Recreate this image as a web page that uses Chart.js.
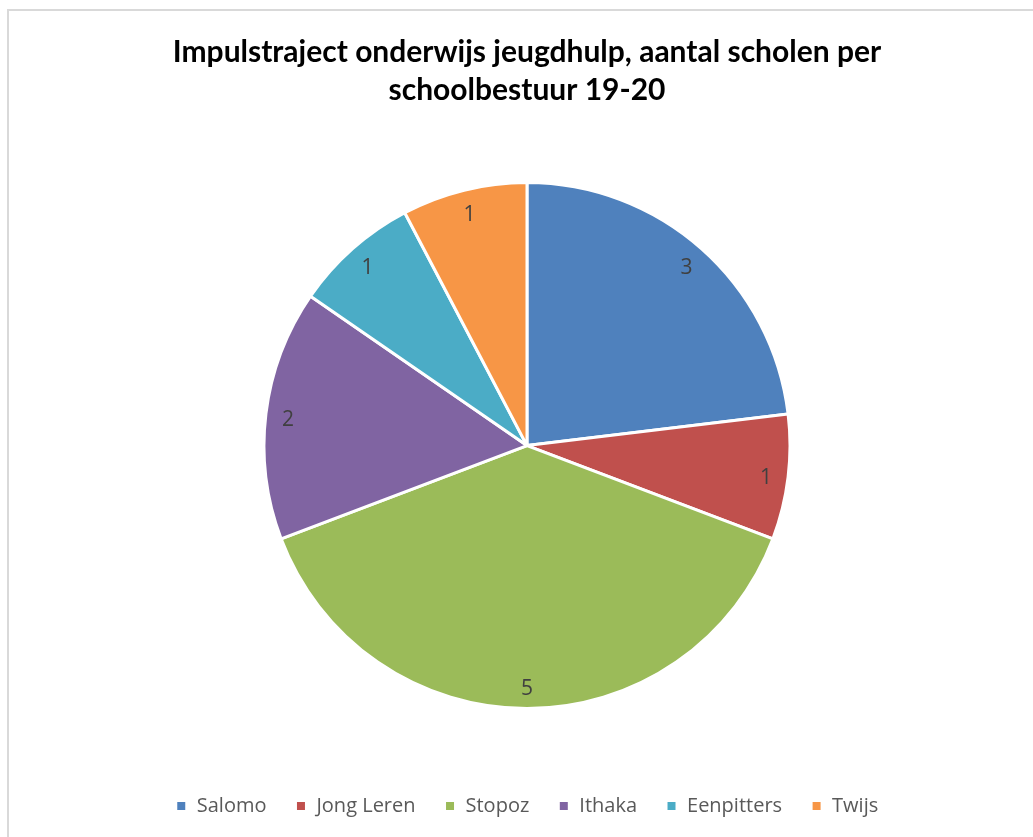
<!DOCTYPE html>
<html><head><meta charset="utf-8">
<script src="https://cdn.jsdelivr.net/npm/chart.js@4/dist/chart.umd.min.js"></script>
<style>
html,body{margin:0;padding:0;background:#fff;overflow:hidden;}
#frame{position:absolute;left:7px;top:9px;width:1040px;height:840px;border:2px solid #d9d9d9;box-sizing:border-box;}
#wrap{position:absolute;left:0;top:0;width:1033px;height:837px;}
</style></head>
<body>
<div id="frame"></div>
<div id="wrap"><canvas id="c" width="1033" height="837"></canvas></div>
<script>
const categories = ["Salomo","Jong Leren","Stopoz","Ithaka","Eenpitters","Twijs"];
const values = [3,1,5,2,1,1];
const colors = ["#4F81BD","#C0504D","#9BBB59","#8064A2","#4BACC6","#F79646"];
const titleLines = ["Impulstraject onderwijs jeugdhulp, aantal scholen per","schoolbestuur 19-20"];

const labelPlugin = {
  id:'sliceLabels',
  afterDatasetsDraw(chart){
    const ctx = chart.ctx;
    const meta = chart.getDatasetMeta(0);
    ctx.save();
    ctx.font = '21px "Open Sans", Lato, sans-serif';
    ctx.fillStyle = '#404040';
    ctx.textAlign='center'; ctx.textBaseline='middle';
    meta.data.forEach((arc,i)=>{
      const p = arc.getProps(['x','y','startAngle','endAngle','outerRadius'],true);
      const a = (p.startAngle+p.endAngle)/2;
      const r = p.outerRadius*0.915;
      ctx.fillText(String(values[i]), p.x+Math.cos(a)*r, p.y+Math.sin(a)*r+3);
    });
    ctx.restore();
  }
};

new Chart(document.getElementById('c'),{
  type:'pie',
  data:{labels:categories,datasets:[{data:values,backgroundColor:colors,borderColor:'#ffffff',borderWidth:3,radius:263}]},
  options:{
    responsive:false,animation:false,
    layout:{padding:{left:21,right:0,top:0,bottom:11}},
    plugins:{
      tooltip:{enabled:false},
      title:{display:true,text:titleLines,color:'#000',font:{family:'Lato, "Open Sans", sans-serif',size:30,weight:'bold',lineHeight:1.27},padding:{top:33,bottom:15}},
      legend:{position:'bottom',labels:{boxWidth:11,boxHeight:11,padding:29,color:'#595959',font:{family:'"Open Sans", Lato, sans-serif',size:20}},},
    }
  },
  plugins:[labelPlugin]
});
</script>
</body></html>
